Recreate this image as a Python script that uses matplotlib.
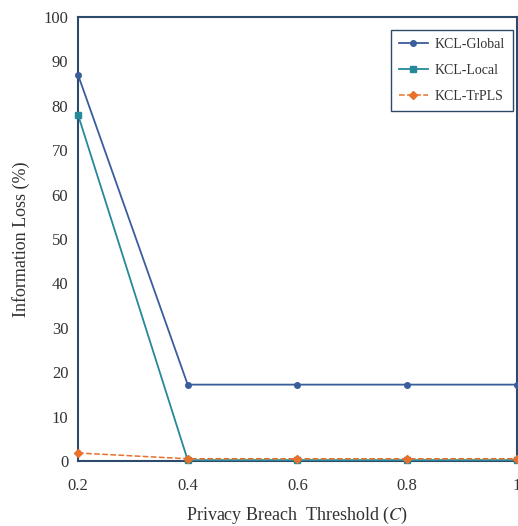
import matplotlib
matplotlib.use("Agg")
import matplotlib.pyplot as plt

plt.rcParams['font.family'] = ['Liberation Serif', 'DejaVu Serif']
plt.rcParams['mathtext.fontset'] = 'stix'

thresholds = [0.2, 0.4, 0.6, 0.8, 1.0]
kcl_global = [87.0, 17.2, 17.2, 17.2, 17.2]
kcl_local = [78.0, 0.2, 0.2, 0.2, 0.2]
kcl_trpls = [1.8, 0.5, 0.5, 0.5, 0.5]

spine_col = '#2e4a6a'
text_col = '#333333'

fig = plt.figure(figsize=(5.18, 5.26), dpi=100)
ax = fig.add_axes([0.1506, 0.1236, 0.847, 0.844])

ax.plot(thresholds, kcl_global, color='#3a5d9c', lw=1.3, marker='o', ms=4,
        label='KCL-Global', clip_on=False, zorder=3)
ax.plot(thresholds, kcl_local, color='#25899a', lw=1.3, marker='s', ms=4,
        label='KCL-Local', clip_on=False, zorder=3)
ax.plot(thresholds, kcl_trpls, color='#e8702a', lw=1.1, ls='--', marker='D', ms=4,
        label='KCL-TrPLS', clip_on=False, zorder=4)

ax.set_xlim(0.2, 1.0)
ax.set_ylim(0, 100)
ax.set_xticks(thresholds)
ax.set_xticklabels(['0.2', '0.4', '0.6', '0.8', '1'])
ax.set_yticks(range(0, 101, 10))
ax.tick_params(length=0, labelsize=12, labelcolor=text_col, pad=7)
ax.tick_params(axis='x', pad=12)
for s in ax.spines.values():
    s.set_color(spine_col)
    s.set_linewidth(1.5)

ax.set_xlabel('Privacy Breach  Threshold ($C$)', fontsize=13, color=text_col, labelpad=8)
ax.set_ylabel('Information Loss (%)', fontsize=13, color=text_col, labelpad=10)

leg = ax.legend(loc='upper right', bbox_to_anchor=(0.991, 0.971), borderaxespad=0,
                fontsize=10, fancybox=False, edgecolor=spine_col, framealpha=1,
                handlelength=2.1, handletextpad=0.5, borderpad=0.55, labelspacing=0.95)
leg.get_frame().set_linewidth(1.0)
for t in leg.get_texts():
    t.set_color(text_col)

fig.savefig('out.png', dpi=100)
